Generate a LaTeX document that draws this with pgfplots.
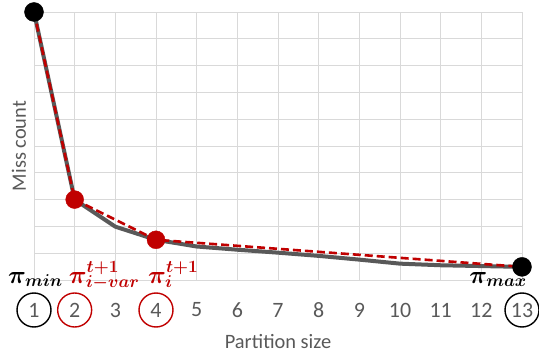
\documentclass[border=0pt]{standalone}
\usepackage{fontspec}
\setmainfont{Carlito}
\usepackage{bm}
\usepackage{pgfplots}
\pgfplotsset{compat=1.18}
\newcommand{\scr}[1]{\mbox{\fontsize{17.5}{20}\selectfont$\bm{#1}$}}
\definecolor{linegray}{HTML}{595959}
\definecolor{gridgray}{HTML}{D9D9D9}
\definecolor{darkred}{HTML}{C00000}
\definecolor{textgray}{HTML}{595959}
\begin{document}
\begin{tikzpicture}
\begin{axis}[
  name=ax,
  scale only axis,
  width=488bp, height=268bp,
  xmin=1, xmax=13, ymin=0, ymax=10,
  xtick={1,...,13}, ytick={0,...,10},
  yticklabels={},
  grid=major,
  major grid style={draw=gridgray, line width=0.9bp},
  axis line style={draw=gridgray, line width=0.9bp},
  tick style={draw=none},
  clip=false,
  /pgf/number format/assume math mode=true,
  xticklabel style={font=\fontsize{22}{26}\selectfont, text=textgray, anchor=center, yshift=-30bp, inner sep=0pt},
  xlabel={Partition size},
  ylabel={Miss count},
  every axis x label/.style={at={(rel axis cs:0.5,0)}, anchor=base, yshift=-68bp, inner sep=0pt, font=\fontsize{20.5}{24}\selectfont, text=textgray},
  every axis y label/.style={at={(rel axis cs:0,0.5)}, rotate=90, anchor=base, yshift=8bp, inner sep=0pt, font=\fontsize{20.5}{24}\selectfont, text=textgray},
]
\addplot[color=linegray, line width=4bp, no marks] coordinates {
(1,10) (2,3.0) (3,1.99) (4,1.5) (5,1.25) (6,1.13) (7,1.02) (8,0.9) (9,0.76) (10,0.61) (11,0.55) (12,0.52) (13,0.49)};
\addplot[color=darkred, line width=2.6bp, dash pattern=on 8bp off 4bp, no marks] coordinates {
(1,10) (2,3.0) (4,1.5) (13,0.49)};
\addplot[only marks, mark=*, mark size=9.5bp, color=black] coordinates {(1,10) (13,0.49)};
\addplot[only marks, mark=*, mark size=9pt, color=darkred] coordinates {(2,3.0) (4,1.5)};
% circles round tick labels
\node[circle, draw=black, line width=1.4bp, minimum size=34bp, inner sep=0pt] at ([yshift=-30bp]axis cs:1,0) {};
\node[circle, draw=darkred, line width=1.4bp, minimum size=34bp, inner sep=0pt] at ([yshift=-30bp]axis cs:2,0) {};
\node[circle, draw=darkred, line width=1.4bp, minimum size=34bp, inner sep=0pt] at ([yshift=-30bp]axis cs:4,0) {};
\node[circle, draw=black, line width=1.4bp, minimum size=34bp, inner sep=0pt] at ([yshift=-30bp]axis cs:13,0) {};
% pi labels
\node[anchor=base west, inner sep=0pt, font=\fontsize{24}{28}\selectfont] at ([xshift=-26bp, yshift=-3bp]axis cs:1,0) {$\bm{\pi}_{\scr{min}}$};
\node[anchor=base west, inner sep=0pt, font=\fontsize{24}{28}\selectfont, text=darkred] at ([xshift=-6bp, yshift=-3bp]axis cs:2,0) {$\bm{\pi}^{\scr{t{+}1}}_{\scr{i{-}var}}$};
\node[anchor=base west, inner sep=0pt, font=\fontsize{24}{28}\selectfont, text=darkred] at ([xshift=-8bp, yshift=-3bp]axis cs:4,0) {$\bm{\pi}^{\scr{t{+}1}}_{\scr{i}}$};
\node[anchor=base east, inner sep=0pt, font=\fontsize{24}{28}\selectfont] at ([xshift=5bp, yshift=-3bp]axis cs:13,0) {$\bm{\pi}_{\scr{max}}$};
\end{axis}
\pgfresetboundingbox
\path[use as bounding box] ([xshift=-34bp, yshift=-76bp]ax.south west) rectangle ([xshift=17bp, yshift=12bp]ax.north east);
\end{tikzpicture}
\end{document}
